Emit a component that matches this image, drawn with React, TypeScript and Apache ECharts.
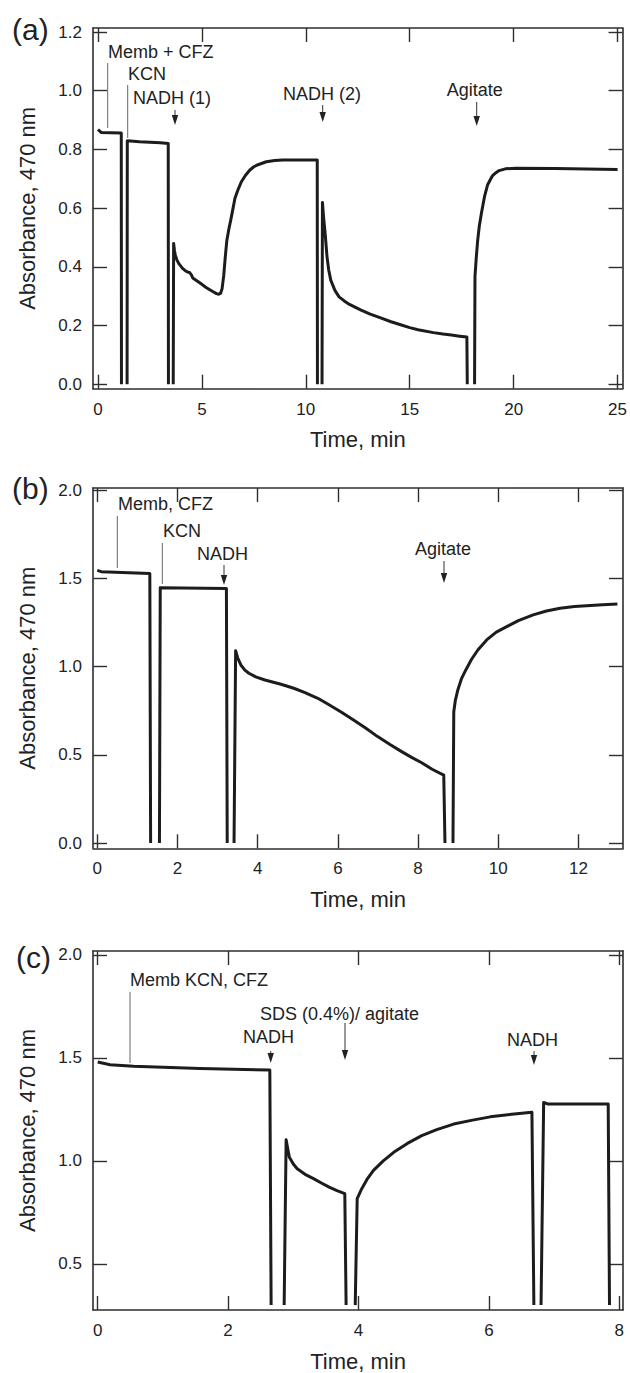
import React, { useEffect, useRef } from "react";
import * as echarts from "echarts";

// ---- Data (time in min, absorbance at 470 nm; null = pen lifted) ----
const aTime = [0, 0.15, 0.6, 1.12, 1.13, 1.2, 1.4, 1.41, 2.0, 3.0, 3.38, 3.39, 3.5, 3.62, 3.64, 3.68, 3.72, 3.8, 3.9, 4.07, 4.2, 4.3, 4.42, 4.5, 4.56, 4.7, 4.93, 5.2, 5.52, 5.7, 5.81, 5.9, 5.97, 6.05, 6.12, 6.2, 6.3, 6.39, 6.5, 6.59, 6.75, 6.9, 7.1, 7.31, 7.5, 7.7, 8.1, 8.5, 8.9, 10.55, 10.56, 10.7, 10.78, 10.8, 10.86, 10.93, 11.02, 11.1, 11.2, 11.4, 11.6, 11.85, 12.1, 12.66, 13.1, 13.6, 14.1, 14.6, 15.0, 15.4, 16.14, 16.6, 17.0, 17.4, 17.75, 17.77, 17.9, 18.12, 18.14, 18.2, 18.27, 18.35, 18.45, 18.6, 18.75, 18.9, 19.0, 19.15, 19.3, 19.6, 20.1, 22.0, 25.0];
const aAbs = [0.868, 0.858, 0.857, 0.856, 0, null, 0, 0.83, 0.826, 0.823, 0.82, 0, null, 0, 0.48, 0.455, 0.44, 0.423, 0.41, 0.395, 0.387, 0.383, 0.38, 0.372, 0.362, 0.355, 0.344, 0.33, 0.316, 0.309, 0.307, 0.31, 0.325, 0.37, 0.43, 0.49, 0.53, 0.56, 0.6, 0.634, 0.665, 0.69, 0.712, 0.73, 0.741, 0.748, 0.758, 0.762, 0.764, 0.764, 0, null, 0, 0.619, 0.565, 0.514, 0.435, 0.39, 0.355, 0.32, 0.298, 0.284, 0.272, 0.253, 0.239, 0.226, 0.213, 0.202, 0.193, 0.186, 0.176, 0.171, 0.168, 0.164, 0.161, 0, null, 0, 0.367, 0.43, 0.49, 0.54, 0.583, 0.64, 0.68, 0.7, 0.712, 0.721, 0.728, 0.734, 0.736, 0.735, 0.732];

const bTime = [0, 0.1, 1.31, 1.33, 1.45, 1.55, 1.57, 3.22, 3.24, 3.3, 3.41, 3.45, 3.5, 3.58, 3.68, 3.78, 3.95, 4.18, 4.58, 4.9, 5.18, 5.5, 5.79, 6.1, 6.39, 6.7, 6.99, 7.3, 7.59, 7.85, 8.09, 8.35, 8.64, 8.67, 8.77, 8.87, 8.89, 8.93, 8.99, 9.08, 9.19, 9.33, 9.49, 9.71, 9.95, 10.21, 10.5, 10.87, 11.2, 11.54, 11.9, 12.2, 12.6, 12.97];
const bAbs = [1.545, 1.538, 1.528, 0, null, 0, 1.446, 1.442, 0, null, 0, 1.09, 1.05, 1.009, 0.98, 0.962, 0.942, 0.924, 0.9, 0.877, 0.852, 0.82, 0.782, 0.74, 0.697, 0.65, 0.603, 0.558, 0.518, 0.484, 0.455, 0.418, 0.385, 0, null, 0, 0.744, 0.81, 0.867, 0.93, 0.981, 1.04, 1.094, 1.151, 1.195, 1.226, 1.26, 1.293, 1.315, 1.33, 1.34, 1.345, 1.35, 1.355];

const cTime = [0, 0.19, 0.55, 1.57, 2.64, 2.66, 2.75, 2.86, 2.89, 2.92, 2.94, 3.0, 3.06, 3.18, 3.31, 3.43, 3.55, 3.67, 3.79, 3.81, 3.9, 3.95, 3.98, 4.05, 4.13, 4.23, 4.38, 4.54, 4.75, 4.97, 5.2, 5.46, 5.75, 6.02, 6.35, 6.66, 6.69, 6.75, 6.8, 6.84, 6.91, 7.83, 7.85];
const cAbs = [1.48, 1.467, 1.46, 1.449, 1.441, 0.3, null, 0.3, 1.103, 1.05, 1.018, 0.985, 0.962, 0.935, 0.914, 0.893, 0.873, 0.856, 0.841, 0.3, null, 0.3, 0.817, 0.865, 0.91, 0.954, 1.0, 1.042, 1.085, 1.123, 1.152, 1.179, 1.198, 1.214, 1.227, 1.236, 0.3, null, 0.3, 1.284, 1.276, 1.276, 0.3];

const aXTicks = [0, 5, 10, 15, 20, 25];
const aYTicks = [0, 0.2, 0.4, 0.6, 0.8, 1.0, 1.2];
const bXTicks = [0, 2, 4, 6, 8, 10, 12];
const bYTicks = [0, 0.5, 1.0, 1.5, 2.0];
const cXTicks = [0, 2, 4, 6, 8];
const cYTicks = [0.5, 1.0, 1.5, 2.0];

const xTitle = "Time, min";
const yTitle = "Absorbance, 470 nm";

const FONT = "'Liberation Sans', Arial, Helvetica, sans-serif";
const INK = "#1c1c1c";
const AXIS = "#2e2e2e";

function zip(t: number[], a: (number | null)[]) {
  return t.map((x, i) => [x, a[i] === null ? null : a[i]]);
}

function axes(grid: number, xr: number[], yr: number[], xt: number[], yt: number[]) {
  const line = { show: true, onZero: false, lineStyle: { color: AXIS, width: 1.6 } };
  const tick = (vals: number[]) => ({ show: true, inside: true, length: 14, customValues: vals, lineStyle: { color: AXIS, width: 1.4 } });
  const lab = { color: "#222", fontSize: 17, fontFamily: FONT };
  const x = [
    {
      type: "value", gridIndex: grid, min: xr[0], max: xr[1], position: "bottom",
      axisLine: line, axisTick: tick(xt), splitLine: { show: false },
      axisLabel: { ...lab, customValues: xt, margin: 12, formatter: (v: number) => String(v) },
      name: xTitle, nameLocation: "middle", nameGap: 40,
      nameTextStyle: { color: "#222", fontSize: 22, fontFamily: FONT },
    },
    {
      type: "value", gridIndex: grid, min: xr[0], max: xr[1], position: "top",
      axisLine: line, axisTick: tick(xt), splitLine: { show: false }, axisLabel: { show: false },
    },
  ];
  const y = [
    {
      type: "value", gridIndex: grid, min: yr[0], max: yr[1], position: "left",
      axisLine: line, axisTick: tick(yt), splitLine: { show: false },
      axisLabel: { ...lab, customValues: yt, margin: 11, formatter: (v: number) => v.toFixed(1) },
      name: yTitle, nameLocation: "middle", nameGap: 55,
      nameTextStyle: { color: "#222", fontSize: 22, fontFamily: FONT },
    },
    {
      type: "value", gridIndex: grid, min: yr[0], max: yr[1], position: "right",
      axisLine: line, axisTick: tick(yt), splitLine: { show: false }, axisLabel: { show: false },
    },
  ];
  return { x, y };
}

function label(text: string, x: number, y: number, size = 18) {
  return {
    type: "text", x, y,
    style: { text, fill: "#222", font: `${size}px ${FONT}`, textAlign: "left", textVerticalAlign: "middle" },
  };
}
function vline(x: number, y0: number, y1: number) {
  return { type: "line", shape: { x1: x, y1: y0, x2: x, y2: y1 }, style: { stroke: "#666", lineWidth: 1 } };
}
function arrow(x: number, y0: number, y1: number) {
  return [
    { type: "line", shape: { x1: x, y1: y0, x2: x, y2: y1 - 8 }, style: { stroke: "#333", lineWidth: 1 } },
    { type: "polygon", shape: { points: [[x - 3.2, y1 - 10], [x + 3.2, y1 - 10], [x, y1]] }, style: { fill: "#222" } },
  ];
}

export default function App() {
  const ref = useRef<HTMLDivElement>(null);
  useEffect(() => {
    if (!ref.current) return;
    const chart = echarts.init(ref.current, undefined, { renderer: "svg" });
    const A = axes(0, [-0.24, 25.24], [-0.015, 1.2137], aXTicks, aYTicks);
    const B = axes(1, [-0.107, 13.11], [-0.03, 2.012], bXTicks, bYTicks);
    const C = axes(2, [-0.0721, 8.057], [0.2762, 2.0193], cXTicks, cYTicks);
    const series = [
      [aTime, aAbs, 0],
      [bTime, bAbs, 1],
      [cTime, cAbs, 2],
    ].map(([t, a, g]: any) => ({
      type: "line",
      xAxisIndex: g * 2,
      yAxisIndex: g * 2,
      data: zip(t, a),
      showSymbol: false,
      symbol: "none",
      connectNulls: false,
      lineStyle: { color: INK, width: 3, join: "round" },
    }));
    const graphics: any[] = [
      label("(a)", 12, 29, 30),
      label("(b)", 12, 488, 30),
      label("(c)", 16, 957, 30),
      // (a)
      label("Memb + CFZ", 108, 52),
      vline(107.7, 63, 128),
      label("KCN", 128, 73.5),
      vline(127.7, 85, 138),
      label("NADH (1)", 133, 97.5),
      ...arrow(175, 110, 125),
      label("NADH (2)", 283, 93.5),
      ...arrow(322.7, 105, 122),
      label("Agitate", 446.7, 90),
      ...arrow(476.7, 102, 126),
      // (b)
      label("Memb, CFZ", 118, 503.5),
      vline(117.3, 516, 568),
      label("KCN", 163, 531),
      vline(162.3, 543, 584),
      label("NADH", 197, 554),
      ...arrow(224, 565, 585),
      label("Agitate", 415, 548.5),
      ...arrow(444, 561, 583),
      // (c)
      label("Memb KCN, CFZ", 130, 980),
      vline(130, 992, 1063),
      label("SDS (0.4%)/ agitate", 260, 1013.5),
      ...arrow(345, 1023, 1060),
      label("NADH", 243, 1036.5),
      ...arrow(270.7, 1051, 1063),
      label("NADH", 507, 1039.5),
      ...arrow(534, 1051, 1065),
    ];
    chart.setOption({
      animation: false,
      backgroundColor: "#ffffff",
      grid: [
        { left: 93, top: 28, width: 530, height: 360.7 },
        { left: 93, top: 488, width: 530, height: 360.3 },
        { left: 93, top: 951, width: 530, height: 361 },
      ],
      xAxis: [...A.x, ...B.x, ...C.x],
      yAxis: [...A.y, ...B.y, ...C.y],
      series,
      graphic: graphics,
    });
    return () => chart.dispose();
  }, []);
  return (
    <div
      ref={ref}
      style={{ position: "absolute", left: 0, top: 0, width: 630, height: 1373, background: "#fff" }}
    />
  );
}
